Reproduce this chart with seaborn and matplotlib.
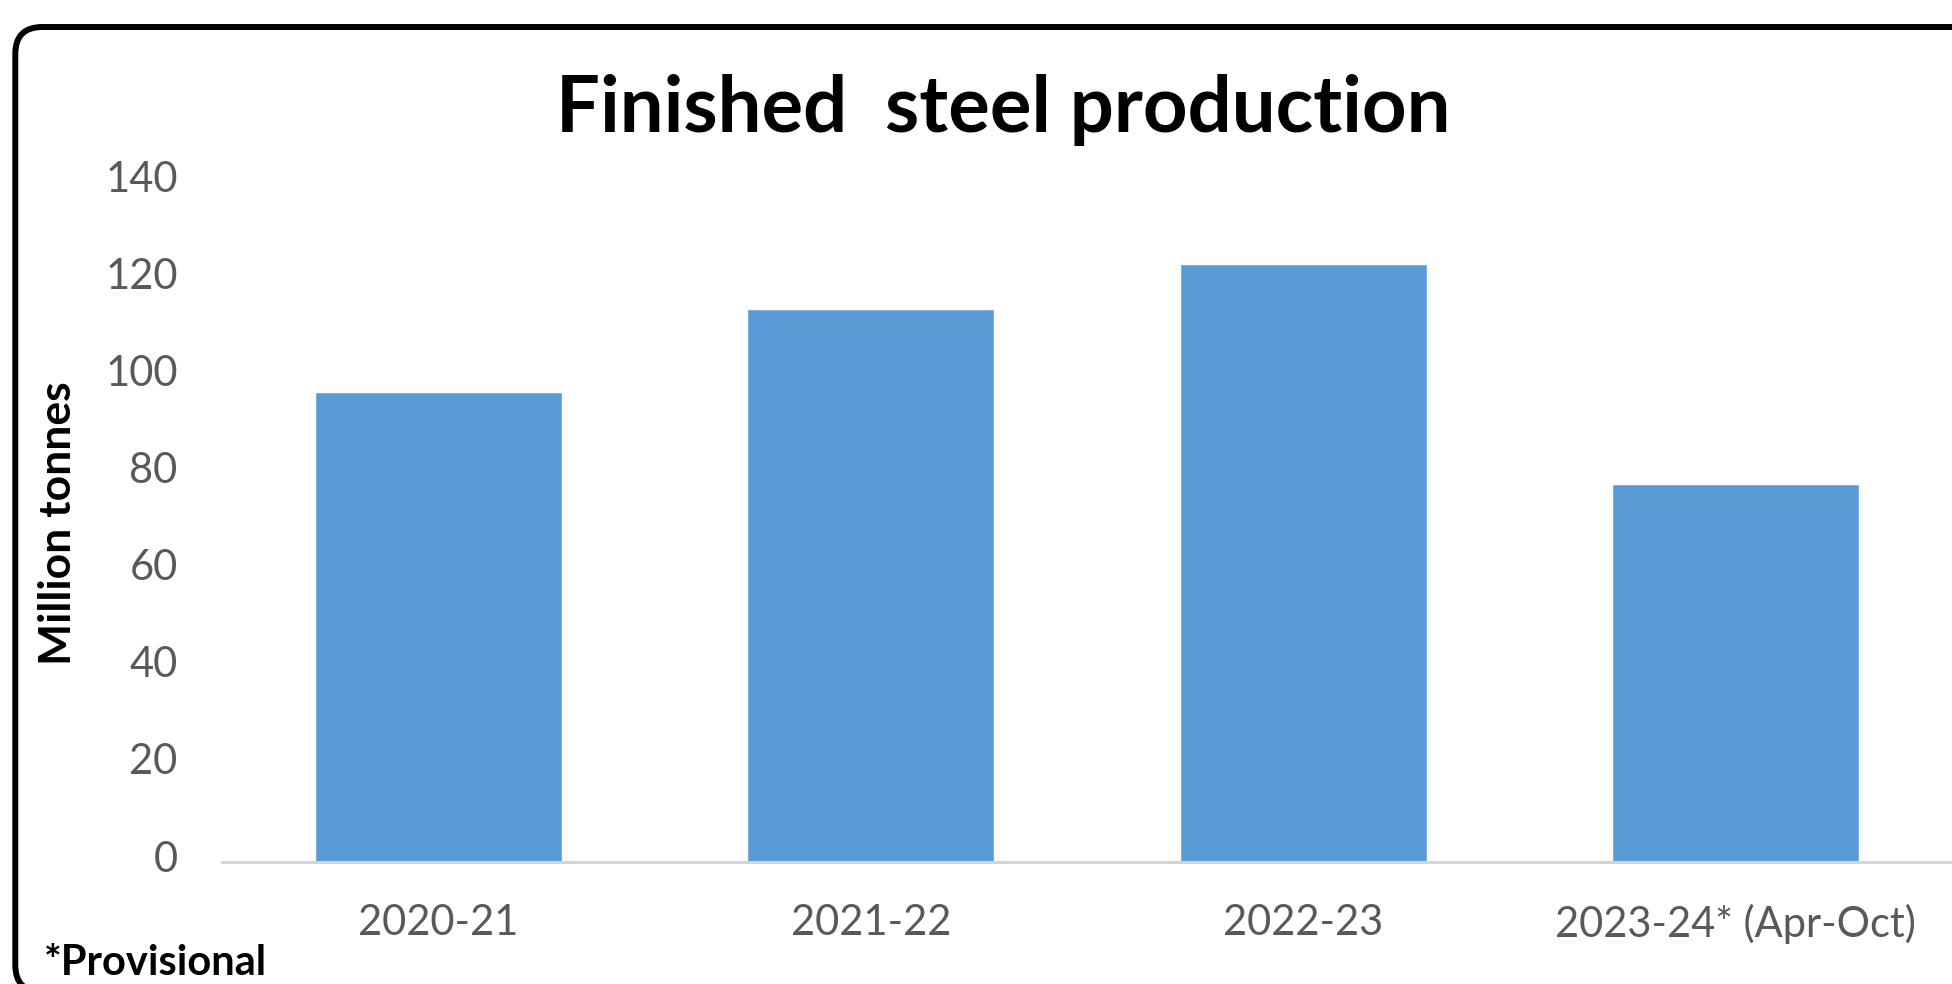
import matplotlib
matplotlib.use("Agg")
import matplotlib.pyplot as plt
from matplotlib.patches import FancyBboxPatch
from matplotlib.transforms import ScaledTranslation
import pandas as pd
import seaborn as sns

# Finished steel production, million tonnes
years = ["2020-21", "2021-22", "2022-23", "2023-24* (Apr-Oct)"]
production = [96.7, 113.8, 123.2, 77.8]
y_ticks = [0, 20, 40, 60, 80, 100, 120, 140]

sns.set_theme(style="white")
plt.rcParams["font.family"] = ["Lato", "DejaVu Sans"]

W, H = 1952, 984
fig = plt.figure(figsize=(W / 100, H / 100), dpi=100)
fig.patch.set_facecolor("white")

ax = fig.add_axes([222 / W, 122 / H, 1730 / W, 680 / H])
df = pd.DataFrame({"year": years, "production": production})
sns.barplot(data=df, x="year", y="production", color="#5B9BD5",
            saturation=1, width=0.57, ax=ax)

ax.set_xlim(-0.5, 3.5)
ax.set_ylim(0, 140)
ax.set_yticks(y_ticks)
ax.set_xlabel("")
ax.set_ylabel("")
for side in ("top", "right", "left"):
    ax.spines[side].set_visible(False)
ax.spines["bottom"].set_color("#D4D4D4")
ax.spines["bottom"].set_linewidth(2.2)
ax.tick_params(axis="both", length=0, labelsize=30, labelcolor="#595959")
ax.tick_params(axis="y", pad=32)
ax.tick_params(axis="x", pad=30)
for lab in ax.get_yticklabels():
    lab.set_transform(lab.get_transform() + ScaledTranslation(0, 0.06, fig.dpi_scale_trans))

fig.text(1003 / W, 1 - 110 / H, "Finished  steel production", ha="center", va="center",
         fontsize=56, fontweight="bold", color="black")
fig.text(58 / W, 1 - 523 / H, "Million tonnes", rotation=90, ha="center", va="center",
         fontsize=32, fontweight="bold", color="black")
fig.text(44 / W, 1 - 975 / H, "*Provisional", ha="left", va="baseline",
         fontsize=30, fontweight="bold", color="black")

# rounded frame around the chart, partly running off the canvas
frame = FancyBboxPatch((0.153, -0.08), 19.70, 9.65,
                       boxstyle="round,pad=0,rounding_size=0.27",
                       transform=fig.dpi_scale_trans, fill=False,
                       edgecolor="black", linewidth=4.3, clip_on=False)
fig.patches.append(frame)

fig.savefig("out.png", dpi=100, facecolor="white")
